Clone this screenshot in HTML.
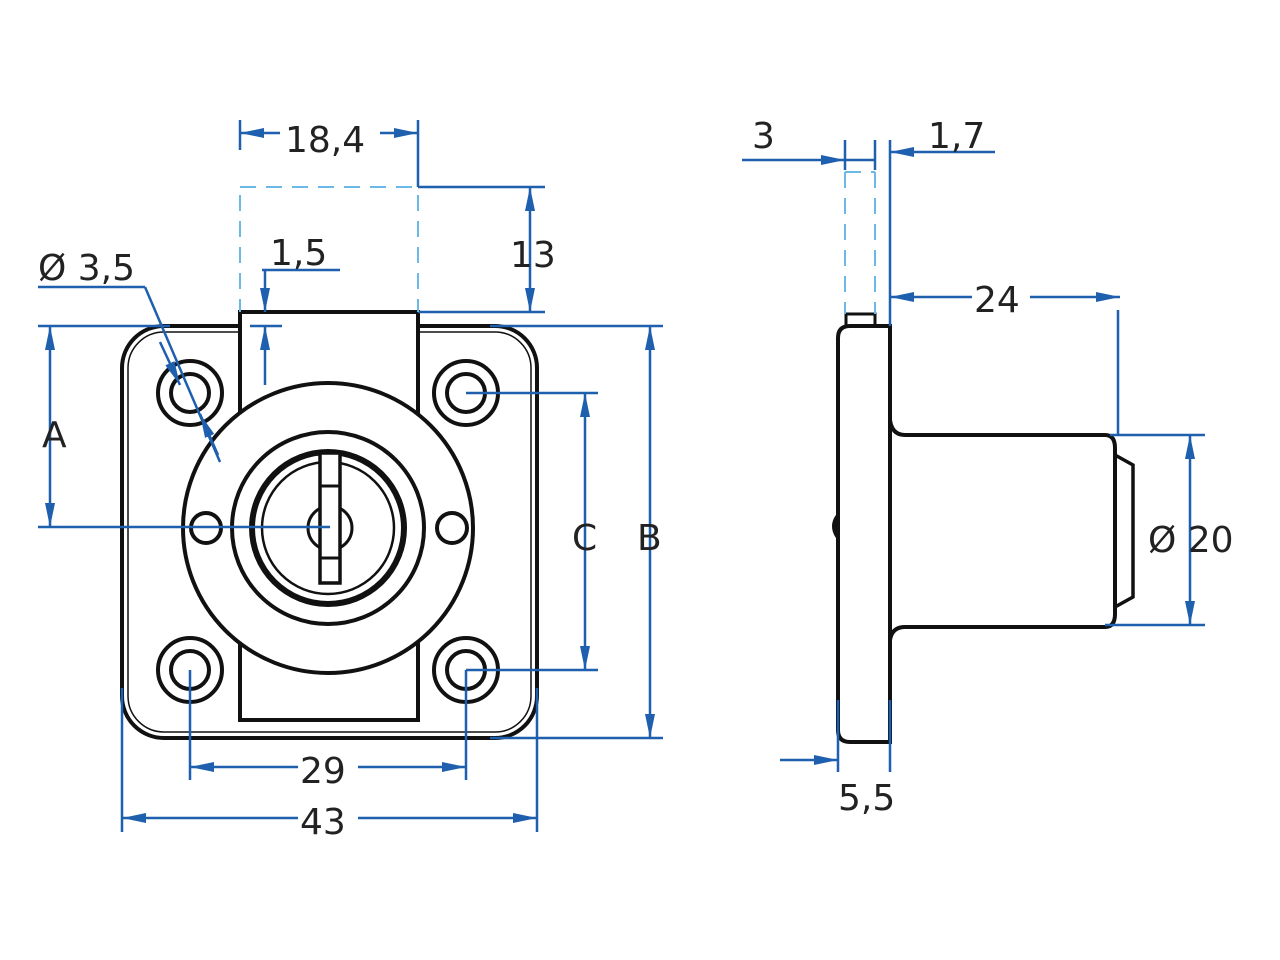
<!DOCTYPE html>
<html><head><meta charset="utf-8"><style>body{margin:0;background:#fff}svg{display:block}</style></head><body>
<svg width="1280" height="960" viewBox="0 0 1280 960" xmlns="http://www.w3.org/2000/svg">
<defs>
<marker id="a" viewBox="0 0 24 10" refX="24" refY="5" markerWidth="24" markerHeight="10" orient="auto-start-reverse" markerUnits="userSpaceOnUse"><path d="M0,0 L24,5 L0,10z" fill="#1e5fae"/></marker>
</defs>
<g fill="none" stroke="#111" stroke-width="4">
<rect x="122" y="326" width="415" height="412" rx="42"/>
<rect x="128" y="332" width="403" height="400" rx="36" stroke-width="1.5"/>
<rect x="240" y="312" width="178" height="408" fill="#fff"/>
<circle cx="328" cy="528" r="145" fill="#fff"/>
<circle cx="328" cy="528" r="96"/>
<circle cx="328" cy="528" r="76" stroke-width="6"/>
<circle cx="328" cy="528" r="66" stroke-width="2.5"/>
<circle cx="330" cy="528" r="22" stroke-width="3"/>
<rect x="320" y="453" width="20" height="130" fill="#fff" stroke-width="3.5"/>
<line x1="320" y1="486" x2="340" y2="486" stroke-width="3"/>
<line x1="320" y1="558" x2="340" y2="558" stroke-width="3"/>
<circle cx="206" cy="528" r="15"/><circle cx="452" cy="528" r="15"/>
<circle cx="190" cy="393" r="32"/><circle cx="190" cy="393" r="19"/>
<circle cx="466" cy="393" r="32"/><circle cx="466" cy="393" r="19"/>
<circle cx="190" cy="670" r="32"/><circle cx="190" cy="670" r="19"/>
<circle cx="466" cy="670" r="32"/><circle cx="466" cy="670" r="19"/>
<rect x="846" y="314" width="29" height="12" stroke-width="3"/>
<path d="M890,326 H850 Q838,326 838,338 V730 Q838,742 850,742 H890 Z" fill="#fff"/>
<path d="M890,420 Q892,435 905,435 H1105 Q1115,435 1115,448 V614 Q1115,627 1105,627 H905 Q892,627 890,640"/>
<path d="M1115,455 L1133,465 V597 L1115,607" stroke-width="3.5"/>
<path d="M837,516 Q830,526 837,537" fill="#111" stroke-width="3"/>
</g>
<g stroke="#1e5fae" stroke-width="2.5" fill="none">
<line x1="240" y1="120" x2="240" y2="150"/><line x1="418" y1="120" x2="418" y2="187"/>
<line x1="240" y1="133" x2="418" y2="133" marker-start="url(#a)" marker-end="url(#a)"/>
<line x1="418" y1="187" x2="545" y2="187"/><line x1="418" y1="312" x2="545" y2="312"/>
<line x1="530" y1="187" x2="530" y2="312" marker-start="url(#a)" marker-end="url(#a)"/>
<line x1="262" y1="270" x2="340" y2="270"/>
<line x1="265" y1="270" x2="265" y2="312" marker-end="url(#a)"/>
<line x1="265" y1="385" x2="265" y2="326" marker-end="url(#a)"/>
<line x1="250" y1="326" x2="282" y2="326"/>
<line x1="38" y1="287" x2="145" y2="287"/>
<polyline points="145,287 220,462"/>
<line x1="160" y1="342" x2="180" y2="385" marker-end="url(#a)"/>
<line x1="218" y1="455" x2="200" y2="414" marker-end="url(#a)"/>
<line x1="38" y1="326" x2="170" y2="326"/><line x1="38" y1="527" x2="330" y2="527"/>
<line x1="50" y1="326" x2="50" y2="527" marker-start="url(#a)" marker-end="url(#a)"/>
<line x1="490" y1="326" x2="663" y2="326"/><line x1="490" y1="738" x2="663" y2="738"/>
<line x1="650" y1="326" x2="650" y2="738" marker-start="url(#a)" marker-end="url(#a)"/>
<line x1="466" y1="393" x2="598" y2="393"/><line x1="466" y1="670" x2="598" y2="670"/>
<line x1="585" y1="393" x2="585" y2="670" marker-start="url(#a)" marker-end="url(#a)"/>
<line x1="190" y1="670" x2="190" y2="780"/><line x1="466" y1="670" x2="466" y2="780"/>
<line x1="190" y1="767" x2="466" y2="767" marker-start="url(#a)" marker-end="url(#a)"/>
<line x1="122" y1="688" x2="122" y2="832"/><line x1="537" y1="688" x2="537" y2="832"/>
<line x1="122" y1="818" x2="537" y2="818" marker-start="url(#a)" marker-end="url(#a)"/>
<line x1="845" y1="140" x2="845" y2="170"/><line x1="875" y1="140" x2="875" y2="170"/>
<line x1="890" y1="140" x2="890" y2="326"/>
<line x1="742" y1="160" x2="845" y2="160" marker-end="url(#a)"/>
<line x1="845" y1="160" x2="875" y2="160"/>
<line x1="995" y1="152" x2="890" y2="152" marker-end="url(#a)"/>
<line x1="890" y1="297" x2="1120" y2="297" marker-start="url(#a)" marker-end="url(#a)"/>
<line x1="1118" y1="310" x2="1118" y2="435"/>
<line x1="1110" y1="435" x2="1205" y2="435"/><line x1="1105" y1="625" x2="1205" y2="625"/>
<line x1="1190" y1="435" x2="1190" y2="625" marker-start="url(#a)" marker-end="url(#a)"/>
<line x1="780" y1="760" x2="838" y2="760" marker-end="url(#a)"/>
<line x1="838" y1="700" x2="838" y2="772"/><line x1="890" y1="700" x2="890" y2="772"/>
</g>
<g stroke="#6cb8e6" stroke-width="2" stroke-dasharray="16,10" fill="none">
<line x1="240" y1="187" x2="418" y2="187"/>
<line x1="240" y1="195" x2="240" y2="312"/>
<line x1="418" y1="195" x2="418" y2="312"/>
<line x1="845" y1="172" x2="845" y2="314"/><line x1="875" y1="172" x2="875" y2="314"/>
<line x1="845" y1="172" x2="875" y2="172"/>
</g>
<g font-family="DejaVu Sans, Liberation Sans, sans-serif" font-size="36" fill="#222">
<rect x="280" y="115" width="100" height="40" fill="#fff"/>
<text x="285" y="152">18,4</text>
<text x="510" y="267">13</text>
<text x="270" y="265">1,5</text>
<text x="38" y="280">Ø 3,5</text>
<text x="42" y="447">A</text>
<text x="572" y="550">C</text>
<text x="637" y="550">B</text>
<rect x="298" y="750" width="60" height="36" fill="#fff"/>
<text x="300" y="783">29</text>
<rect x="298" y="800" width="60" height="36" fill="#fff"/>
<text x="300" y="834">43</text>
<text x="752" y="148">3</text>
<text x="928" y="148">1,7</text>
<rect x="972" y="280" width="58" height="36" fill="#fff"/>
<text x="974" y="312">24</text>
<text x="1148" y="552">Ø 20</text>
<text x="838" y="810">5,5</text>
</g>
</svg>
</body></html>
